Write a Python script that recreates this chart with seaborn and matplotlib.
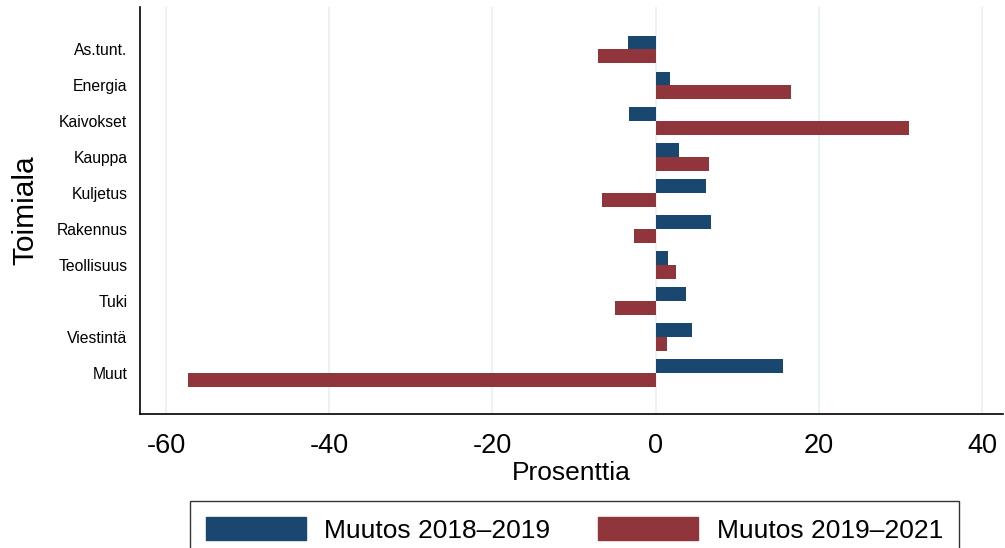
#Importing libraries
import pandas as pd
import matplotlib
matplotlib.use("Agg")
import matplotlib.pyplot as plt
import seaborn as sns

#Industry categories and percentage changes
toimiala = ["As.tunt.", "Energia", "Kaivokset", "Kauppa", "Kuljetus",
            "Rakennus", "Teollisuus", "Tuki", "Viestintä", "Muut"]
muutos_2018_2019 = [-3.4, 1.8, -3.3, 2.9, 6.2, 6.8, 1.5, 3.7, 4.4, 15.6]
muutos_2019_2021 = [-7.1, 16.6, 31.0, 6.5, -6.6, -2.7, 2.5, -5.0, 1.4, -57.3]
sarjat = ["Muutos 2018\u20132019", "Muutos 2019\u20132021"]
xticks = [-60, -40, -20, 0, 20, 40]
varit = ["#1a476f", "#90353b"]

#Building a long table for seaborn
df = pd.DataFrame({
    "Toimiala": toimiala * 2,
    "Prosenttia": muutos_2018_2019 + muutos_2019_2021,
    "Sarja": [sarjat[0]] * len(toimiala) + [sarjat[1]] * len(toimiala),
})

sns.set_style("white")
plt.rcParams["font.family"] = ["Liberation Sans", "DejaVu Sans"]
plt.rcParams["text.color"] = "black"
plt.rcParams["axes.labelcolor"] = "black"
plt.rcParams["xtick.color"] = "black"
plt.rcParams["ytick.color"] = "black"

fig = plt.figure(figsize=(10.05, 5.48), dpi=100)
ax = fig.add_axes([0.1393, 0.2445, 0.859, 0.7425])

sns.barplot(data=df, y="Toimiala", x="Prosenttia", hue="Sarja", order=toimiala,
            hue_order=sarjat, palette=varit, orient="h", width=0.76,
            saturation=1, linewidth=0, ax=ax, legend=False)

#Axes styling
ax.set_xlim(-63.2, 42.6)
ax.set_ylim(9 + 1.14, -1.17)
ax.set_xticks(xticks)
ax.set_xticklabels([str(t) for t in xticks])
ax.xaxis.grid(True, color="#eaf2f3", linewidth=1.5)
ax.set_axisbelow(True)
for side in ["top", "right"]:
    ax.spines[side].set_visible(False)
for side in ["left", "bottom"]:
    ax.spines[side].set_color("black")
    ax.spines[side].set_linewidth(1.2)
ax.tick_params(axis="x", length=10, width=1.2, labelsize=19.5, pad=4)
ax.tick_params(axis="y", length=0, labelsize=11.3, pad=9)
ax.set_xlabel("Prosenttia", fontsize=19, labelpad=1)
ax.set_ylabel("Toimiala", fontsize=21.5, labelpad=12)

#Legend below the plot, its bottom edge runs off the figure like in the original
handles = [plt.Rectangle((0, 0), 1, 1, color=c) for c in varit]
leg = fig.legend(handles, sarjat, loc="upper center", bbox_to_anchor=(0.5715, 0.086),
                 ncol=2, fontsize=19, frameon=True, fancybox=False,
                 handlelength=3.8, handleheight=1.0, handletextpad=0.7,
                 columnspacing=1.8, borderpad=0.6, borderaxespad=0)
leg.get_frame().set_edgecolor("black")
leg.get_frame().set_linewidth(1.0)

fig.savefig("out.png", dpi=100)
